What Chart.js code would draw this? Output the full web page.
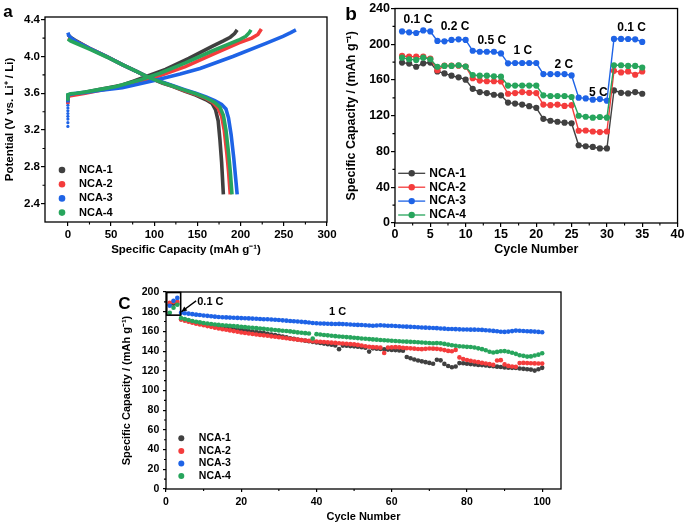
<!DOCTYPE html>
<html>
<head>
<meta charset="utf-8">
<script src="https://cdn.jsdelivr.net/npm/chart.js@4.4.1/dist/chart.umd.min.js"></script>
<style>
  body { margin: 0; background: #fff; width: 685px; height: 525px; overflow: hidden; position: relative; }
  canvas { position: absolute; }
  #chartA { left: 0; top: 0; }
  #chartB { left: 335px; top: 0; }
  #chartC { left: 112px; top: 282px; }
</style>
</head>
<body>
<canvas id="chartA" width="345" height="262"></canvas>
<canvas id="chartB" width="350" height="262"></canvas>
<canvas id="chartC" width="460" height="243"></canvas>
<script>
const FONT = "'Liberation Sans', Arial, sans-serif";
const seriesNames = ['NCA-1', 'NCA-2', 'NCA-3', 'NCA-4'];
const seriesColors = ['#404040', '#f43c3c', '#1e63e6', '#27a55c'];

// (a) charge / discharge profiles, [capacity mAh/g, potential V]
const aCharge1 = [[0,3.50],[0,3.57],[3,3.585],[10,3.595],[20,3.61],[36,3.64],[50,3.665],[63,3.69],[75,3.73],[90,3.78],[113,3.86],[140,3.98],[167,4.11],[180,4.17],[188,4.21],[193,4.25],[196,4.29]];
const aCharge2 = [[0,3.48],[0,3.56],[3,3.575],[10,3.585],[20,3.60],[36,3.63],[56,3.665],[80,3.72],[106,3.79],[136,3.89],[167,4.02],[198,4.15],[213,4.20],[220,4.24],[224,4.30]];
const aCharge3 = [[0,3.50],[0,3.58],[3,3.59],[10,3.60],[20,3.61],[36,3.63],[63,3.66],[100,3.74],[130,3.81],[153,3.87],[191,4.00],[230,4.145],[249,4.22],[258,4.26],[264,4.29]];
const aCharge4 = [[0,3.52],[0,3.585],[3,3.595],[10,3.60],[20,3.615],[36,3.64],[56,3.675],[83,3.745],[106,3.815],[136,3.93],[167,4.06],[198,4.18],[206,4.22],[210,4.26],[212,4.29]];
const aTail3 = [[0,3.24],[0,3.28],[0,3.32],[0,3.35],[0,3.38],[0,3.41],[0,3.44],[0,3.47]];
const aDischarge1 = [[0,4.24],[3,4.21],[8,4.18],[25,4.09],[45,4.00],[63.5,3.91],[80,3.835],[94,3.77],[110,3.71],[121,3.675],[135,3.625],[148,3.58],[160,3.53],[167,3.49],[171,3.42],[174,3.30],[176,3.10],[178,2.85],[180,2.50]];
const aDischarge2 = [[0,4.20],[3,4.19],[8,4.17],[25,4.09],[45,4.00],[63.5,3.91],[80,3.835],[94,3.77],[110,3.715],[121,3.68],[135,3.63],[148,3.59],[160,3.545],[168,3.50],[174,3.44],[178,3.35],[181,3.20],[184,2.95],[186,2.75],[188,2.50]];
const aDischarge3 = [[0,4.26],[1,4.23],[4,4.20],[10,4.16],[25,4.09],[45,4.00],[63.5,3.91],[80,3.835],[94,3.77],[110,3.72],[121,3.685],[135,3.64],[148,3.60],[160,3.56],[170,3.52],[178,3.48],[183,3.43],[186,3.33],[189,3.15],[192,2.90],[194,2.70],[196,2.50]];
const aDischarge4 = [[0,4.19],[3,4.17],[8,4.15],[25,4.08],[45,3.995],[63.5,3.91],[80,3.835],[94,3.77],[110,3.715],[121,3.68],[135,3.635],[148,3.595],[160,3.55],[170,3.50],[176,3.45],[180,3.36],[183,3.20],[186,2.95],[188,2.75],[190,2.50]];
const aXTicks = [0, 50, 100, 150, 200, 250, 300];
const aYTicks = [2.4, 2.8, 3.2, 3.6, 4.0, 4.4];

// (b) rate capability
const bCycles = [1,2,3,4,5,6,7,8,9,10,11,12,13,14,15,16,17,18,19,20,21,22,23,24,25,26,27,28,29,30,31,32,33,34,35];
const bNca1 = [179.5,178.4,174.8,178.7,179.5,169.6,167.4,164.8,163.0,160.4,150.1,146.5,145.4,143.5,142.8,134.7,133.6,132.5,130.7,128.9,116.6,114.4,113.3,112.3,111.6,87.0,85.9,85.1,83.4,83.4,148.3,145.7,145.0,146.5,144.6];
const bNca2 = [186.9,186.1,186.1,186.1,183.9,171.0,176.0,176.0,176.0,175.0,162.0,159.4,158.6,158.6,158.3,144.6,145.4,146.5,145.7,145.4,132.5,131.8,132.5,131.0,131.8,103.2,103.5,102.4,101.7,102.4,170.3,168.5,169.6,165.9,169.6];
const bNca3 = [214.4,213.3,212.6,215.5,214.4,203.7,203.3,204.8,205.5,204.8,192.7,191.6,191.6,191.6,189.7,178.7,179.0,179.0,179.0,179.0,166.6,166.6,166.6,166.6,165.1,140.2,139.4,138.0,138.7,136.9,206.0,206.0,205.9,205.5,202.6];
const bNca4 = [185.0,183.2,182.5,185.0,183.2,174.8,175.8,175.8,176.5,175.1,165.6,164.8,164.8,164.1,163.7,153.8,153.8,153.8,153.8,153.8,142.8,142.1,142.1,142.1,141.0,120.0,118.9,117.8,118.6,117.8,176.5,176.5,175.8,175.8,174.0];
const bXTicks = [0, 5, 10, 15, 20, 25, 30, 35, 40];
const bYTicks = [0, 40, 80, 120, 160, 200, 240];
const bRateLabels = ['0.1 C', '0.2 C', '0.5 C', '1 C', '2 C', '5 C', '0.1 C'];

// (c) cycling at 1 C (first 3 cycles at 0.1 C)
const cCycles = [1,2,3,4,5,6,7,8,9,10,11,12,13,14,15,16,17,18,19,20,21,22,23,24,25,26,27,28,29,30,31,32,33,34,35,36,37,38,39,40,41,42,43,44,45,46,47,48,49,50,51,52,53,54,55,56,57,58,59,60,61,62,63,64,65,66,67,68,69,70,71,72,73,74,75,76,77,78,79,80,81,82,83,84,85,86,87,88,89,90,91,92,93,94,95,96,97,98,99,100];
const cNca1 = [187,188,188,
  172.5,171.5,170.6,169.6,168.8,168.0,167.2,166.5,165.8,165.2,164.6,164.0,163.4,162.9,162.4,161.9,161.4,160.9,160.4,159.9,
  159.4,158.8,158.2,157.6,156.9,156.2,155.5,154.7,153.9,153.1,152.4,151.8,151.2,150.6,150.0,149.4,148.8,148.2,147.6,147.0,
  146.4,145.8,142.0,145.6,145.4,145.1,144.8,144.4,144.0,143.5,139.5,142.8,142.5,142.2,141.8,141.5,141.2,141.0,140.7,140.4,
  134.0,132.8,131.5,130.4,129.6,128.8,128.0,127.2,131.2,130.6,
  127.0,124.8,123.6,124.4,127.8,127.6,127.2,126.8,126.4,126.0,
  125.8,125.5,125.0,124.6,124.2,123.8,123.4,123.2,123.0,122.8,
  122.4,122.0,121.6,121.2,120.2,121.5,123.0];
const cNca2 = [189,190,190,
  172.0,170.8,169.8,168.8,167.8,167.0,166.2,165.4,164.6,163.8,163.0,162.3,161.6,161.0,160.3,159.6,158.9,158.3,157.8,157.3,
  156.9,156.4,156.0,155.6,155.0,154.5,154.0,153.5,153.0,152.5,
  152.0,151.6,151.1,150.7,150.4,150.1,149.8,149.5,149.2,148.9,
  148.6,148.3,148.0,147.7,147.4,147.1,146.8,146.3,145.7,145.0,
  144.4,144.0,143.8,143.5,138.0,143.6,143.8,144.0,143.8,143.3,
  143.0,142.8,142.5,142.2,142.0,142.3,142.6,142.5,142.3,141.8,
  141.0,140.2,139.8,141.2,133.6,132.0,131.0,130.2,129.5,128.8,
  128.0,127.4,126.8,126.0,130.4,130.8,126.5,125.0,124.4,124.0,
  127.8,128.0,127.8,127.6,127.5,127.4,127.3];
const cNca3 = [186,191,194,
  179.0,178.5,178.0,177.5,177.0,176.6,176.2,175.8,175.4,175.0,174.6,174.4,174.2,174.0,173.9,173.7,173.5,173.4,173.2,173.0,
  172.8,172.6,172.4,172.3,172.1,171.8,171.5,171.2,170.9,170.6,
  170.3,170.0,169.7,169.4,169.0,168.6,168.2,168.0,167.9,167.8,
  167.6,167.5,167.6,167.4,167.2,167.0,166.8,166.6,166.5,166.3,
  166.0,165.8,166.0,166.2,166.0,165.8,165.7,165.5,165.3,165.0,
  164.8,164.6,164.4,164.2,164.0,163.8,163.6,163.5,163.3,163.0,
  162.8,162.5,162.4,162.3,162.1,162.0,161.9,161.8,161.8,161.6,
  161.5,161.2,160.9,160.5,160.1,159.7,159.5,159.8,160.3,160.8,
  160.6,160.4,160.2,160.0,159.8,159.5,159.2];
const cNca4 = [179,184,187,
  173.5,172.5,171.5,170.6,169.8,169.2,168.6,168.0,167.5,167.0,
  166.6,166.2,166.0,165.8,165.5,165.1,164.7,164.3,164.0,163.6,
  163.3,163.0,162.6,162.2,161.8,161.4,161.0,160.6,160.4,160.0,
  159.5,159.0,158.6,158.2,157.8,152.8,157.2,156.8,156.3,156.0,
  155.6,155.2,154.8,154.5,154.2,153.9,153.5,153.2,152.8,152.5,
  152.2,151.9,151.6,151.3,151.0,150.8,150.5,150.3,150.0,149.8,
  149.6,149.4,149.2,149.0,148.7,148.5,148.2,148.0,148.1,148.0,
  147.3,146.6,146.0,145.4,145.0,144.6,144.3,144.2,143.6,142.8,
  142.0,140.8,139.3,138.6,139.2,139.8,140.0,139.4,138.4,137.2,
  135.8,135.2,134.4,134.6,135.6,136.4,137.8];
const cXTicks = [0, 20, 40, 60, 80, 100];
const cYTicks = [0, 20, 40, 60, 80, 100, 120, 140, 160, 180, 200];

function minorBetween(ticks) {
  const out = [];
  for (let i = 0; i < ticks.length - 1; i++) out.push((ticks[i] + ticks[i + 1]) / 2);
  return out;
}

function axis(o) {
  return {
    type: 'linear',
    position: o.pos,
    min: o.min,
    max: o.max,
    afterBuildTicks: s => { s.ticks = o.ticks.map(v => ({ value: v })); },
    afterFit: s => { if (o.pos === 'left') s.width = o.thick; else s.height = o.thick; },
    ticks: {
      color: '#000', padding: o.tickPad, autoSkip: false, maxRotation: 0,
      font: { family: FONT, size: o.size, weight: 'bold' },
      callback: o.fmt || (v => String(v))
    },
    grid: { drawOnChartArea: false, drawTicks: true, tickLength: o.tickLen, color: '#000', lineWidth: 1.2 },
    border: { display: false },
    title: {
      display: true, text: o.title, color: '#000',
      font: { family: FONT, size: o.titleSize, weight: 'bold' },
      padding: o.titlePad
    }
  };
}

// box frame + minor ticks
const framePlugin = {
  id: 'frame',
  afterDatasetsDraw(chart, args, o) {
    const { ctx, chartArea: a } = chart;
    const x = chart.scales.x, y = chart.scales.y;
    ctx.save();
    ctx.strokeStyle = '#000';
    ctx.lineWidth = 1.3;
    ctx.strokeRect(a.left, a.top, a.right - a.left, a.bottom - a.top);
    ctx.lineWidth = 1.1;
    ctx.beginPath();
    (o.xMinor || []).forEach(v => {
      const p = x.getPixelForValue(v);
      if (p > a.left && p < a.right) { ctx.moveTo(p, a.bottom); ctx.lineTo(p, a.bottom + o.minorLen); }
    });
    (o.yMinor || []).forEach(v => {
      const p = y.getPixelForValue(v);
      if (p > a.top && p < a.bottom) { ctx.moveTo(a.left, p); ctx.lineTo(a.left - o.minorLen, p); }
    });
    ctx.stroke();
    ctx.restore();
  }
};

// legends, annotations, panel letters
const notesPlugin = {
  id: 'notes',
  afterDraw(chart, args, o) {
    const ctx = chart.ctx;
    const sx = chart.scales.x, sy = chart.scales.y;
    ctx.save();
    ctx.textBaseline = 'middle';
    (o.labels || []).forEach(l => {
      ctx.fillStyle = '#000';
      ctx.font = `bold ${l.size}px ${FONT}`;
      ctx.textAlign = 'center';
      const px = l.data ? sx.getPixelForValue(l.x) : l.x;
      const py = l.data ? sy.getPixelForValue(l.y) : l.y;
      ctx.fillText(l.text, px, py);
    });
    if (o.box) {
      const b = o.box;
      const x0 = sx.getPixelForValue(b.x0), x1 = sx.getPixelForValue(b.x1);
      const y0 = sy.getPixelForValue(b.y0), y1 = sy.getPixelForValue(b.y1);
      ctx.strokeStyle = '#000';
      ctx.lineWidth = 1.6;
      ctx.strokeRect(x0, y1, x1 - x0, y0 - y1);
    }
    if (o.arrow) {
      const ar = o.arrow;
      const fx = sx.getPixelForValue(ar.from[0]), fy = sy.getPixelForValue(ar.from[1]);
      const tx = sx.getPixelForValue(ar.to[0]), ty = sy.getPixelForValue(ar.to[1]);
      const ang = Math.atan2(ty - fy, tx - fx);
      ctx.strokeStyle = ctx.fillStyle = '#000';
      ctx.lineWidth = 1.3;
      ctx.beginPath(); ctx.moveTo(fx, fy); ctx.lineTo(tx, ty); ctx.stroke();
      ctx.beginPath();
      ctx.moveTo(tx, ty);
      ctx.lineTo(tx - 6 * Math.cos(ang - 0.45), ty - 6 * Math.sin(ang - 0.45));
      ctx.lineTo(tx - 6 * Math.cos(ang + 0.45), ty - 6 * Math.sin(ang + 0.45));
      ctx.closePath(); ctx.fill();
    }
    const lg = o.legend;
    if (lg) {
      seriesNames.forEach((name, i) => {
        const cy = lg.y + i * lg.gap;
        ctx.strokeStyle = ctx.fillStyle = seriesColors[i];
        if (lg.line) {
          ctx.lineWidth = 1.3;
          ctx.beginPath(); ctx.moveTo(lg.x - lg.lineHalf, cy); ctx.lineTo(lg.x + lg.lineHalf, cy); ctx.stroke();
        }
        ctx.beginPath(); ctx.arc(lg.x, cy, lg.r, 0, Math.PI * 2); ctx.fill();
        ctx.fillStyle = '#000';
        ctx.textAlign = 'left';
        ctx.font = `bold ${lg.size}px ${FONT}`;
        ctx.fillText(name, lg.textX, cy);
      });
    }
    ctx.restore();
  }
};

const common = {
  responsive: false,
  animation: false,
  devicePixelRatio: 1,
  events: []
};

// ---------- panel a ----------
const aChargeSets = [aCharge1, aCharge2, aCharge3, aCharge4];
const aDischargeSets = [aDischarge1, aDischarge2, aDischarge3, aDischarge4];
const aDatasets = [];
seriesNames.forEach((name, i) => {
  [aChargeSets[i], aDischargeSets[i]].forEach(pts => {
    aDatasets.push({
      label: name,
      data: pts.map(p => ({ x: p[0], y: p[1] })),
      showLine: true, borderColor: seriesColors[i], borderWidth: 3.6,
      pointRadius: 0, order: 4 - i
    });
  });
});
aDatasets.push({
  label: 'NCA-3', data: aTail3.map(p => ({ x: p[0], y: p[1] })),
  showLine: false, pointRadius: 1.6, backgroundColor: seriesColors[2], borderWidth: 0, order: 2
});

new Chart(document.getElementById('chartA'), {
  type: 'scatter',
  data: { datasets: aDatasets },
  options: {
    ...common,
    layout: { padding: { top: 17, right: 18, left: 0, bottom: 0 }, autoPadding: false },
    plugins: {
      legend: { display: false }, tooltip: { enabled: false },
      frame: { xMinor: minorBetween(aXTicks), yMinor: minorBetween(aYTicks), minorLen: 2.5 },
      notes: {
        labels: [{ text: 'a', x: 8, y: 12, size: 17 }],
        legend: { x: 62, y: 170, gap: 14.2, r: 3.3, textX: 79, size: 11 }
      }
    },
    scales: {
      x: axis({ pos: 'bottom', min: -26.5, max: 300, ticks: aXTicks, thick: 40, size: 11.5, tickLen: 4, tickPad: 2,
        title: 'Specific Capacity (mAh g\u207B\u00B9)', titleSize: 11.5, titlePad: { top: 0, bottom: 5 } }),
      y: axis({ pos: 'left', min: 2.2, max: 4.43, ticks: aYTicks, thick: 45, size: 11.5, tickLen: 4, tickPad: 1,
        fmt: v => v.toFixed(1),
        title: 'Potential (V vs. Li\u207A / Li)', titleSize: 11.5, titlePad: { top: 3, bottom: 0 } })
    }
  },
  plugins: [framePlugin, notesPlugin]
});

// ---------- panel b ----------
const bSeries = [bNca1, bNca2, bNca3, bNca4];
new Chart(document.getElementById('chartB'), {
  type: 'scatter',
  data: {
    datasets: bSeries.map((vals, i) => ({
      label: seriesNames[i],
      data: vals.map((v, k) => ({ x: bCycles[k], y: v })),
      showLine: true, borderColor: seriesColors[i], backgroundColor: seriesColors[i],
      borderWidth: 1.4, pointRadius: 3.1, pointBorderWidth: 0, order: 4 - i
    }))
  },
  options: {
    ...common,
    layout: { padding: { top: 5, right: 7, left: 0, bottom: 0 }, autoPadding: false },
    plugins: {
      legend: { display: false }, tooltip: { enabled: false },
      frame: { xMinor: minorBetween(bXTicks), yMinor: minorBetween(bYTicks), minorLen: 2.5 },
      notes: {
        labels: [
          { text: 'b', x: 16, y: 15, size: 19 },
          { text: bRateLabels[0], x: 3.25, y: 227.5, size: 12, data: true },
          { text: bRateLabels[1], x: 8.5, y: 220, size: 12, data: true },
          { text: bRateLabels[2], x: 13.7, y: 203.7, size: 12, data: true },
          { text: bRateLabels[3], x: 18.1, y: 192.7, size: 12, data: true },
          { text: bRateLabels[4], x: 23.9, y: 177, size: 12, data: true },
          { text: bRateLabels[5], x: 28.8, y: 146, size: 12, data: true },
          { text: bRateLabels[6], x: 33.5, y: 218, size: 12, data: true }
        ],
        legend: { x: 76.7, y: 173.3, gap: 13.9, r: 3.2, textX: 94.3, size: 12, line: true, lineHalf: 13.5 }
      }
    },
    scales: {
      x: axis({ pos: 'bottom', min: 0, max: 40, ticks: bXTicks, thick: 39, size: 12.5, tickLen: 4, tickPad: 0.5,
        title: 'Cycle Number', titleSize: 12.5, titlePad: { top: 0, bottom: 4.5 } }),
      y: axis({ pos: 'left', min: 0, max: 240, ticks: bYTicks, thick: 60, size: 12.5, tickLen: 4, tickPad: 1,
        title: 'Specific Capacity / (mAh g\u207B\u00B9)', titleSize: 12.5, titlePad: { top: 9.5, bottom: 0 } })
    }
  },
  plugins: [framePlugin, notesPlugin]
});

// ---------- panel c ----------
const cSeries = [cNca1, cNca2, cNca3, cNca4];
new Chart(document.getElementById('chartC'), {
  type: 'scatter',
  data: {
    datasets: cSeries.map((vals, i) => ({
      label: seriesNames[i],
      data: vals.map((v, k) => ({ x: cCycles[k], y: v })),
      showLine: false, backgroundColor: seriesColors[i],
      pointRadius: 2.3, pointBorderWidth: 0, order: 4 - i
    }))
  },
  options: {
    ...common,
    layout: { padding: { top: 9, right: 11, left: 0, bottom: 0 }, autoPadding: false },
    plugins: {
      legend: { display: false }, tooltip: { enabled: false },
      frame: { xMinor: minorBetween(cXTicks), yMinor: minorBetween(cYTicks), minorLen: 2 },
      notes: {
        labels: [
          { text: 'C', x: 12.5, y: 22, size: 17 },
          { text: '0.1 C', x: 11.8, y: 190, size: 11, data: true },
          { text: '1 C', x: 45.6, y: 179.3, size: 11, data: true }
        ],
        box: { x0: 0.2, x1: 3.9, y0: 176.5, y1: 199.5 },
        arrow: { from: [8.0, 191], to: [4.1, 180] },
        legend: { x: 69.3, y: 156.3, gap: 12.6, r: 3, textX: 86.8, size: 10.5 }
      }
    },
    scales: {
      x: axis({ pos: 'bottom', min: 0, max: 105, ticks: cXTicks, thick: 36, size: 10.5, tickLen: 3, tickPad: 3.4,
        title: 'Cycle Number', titleSize: 11, titlePad: { top: 0, bottom: 1 } }),
      y: axis({ pos: 'left', min: 0, max: 200, ticks: cYTicks, thick: 54, size: 10.5, tickLen: 3, tickPad: 3.7,
        title: 'Specific Capacity / (mAh g\u207B\u00B9)', titleSize: 11, titlePad: { top: 8.4, bottom: 0 } })
    }
  },
  plugins: [framePlugin, notesPlugin]
});
</script>
</body>
</html>
